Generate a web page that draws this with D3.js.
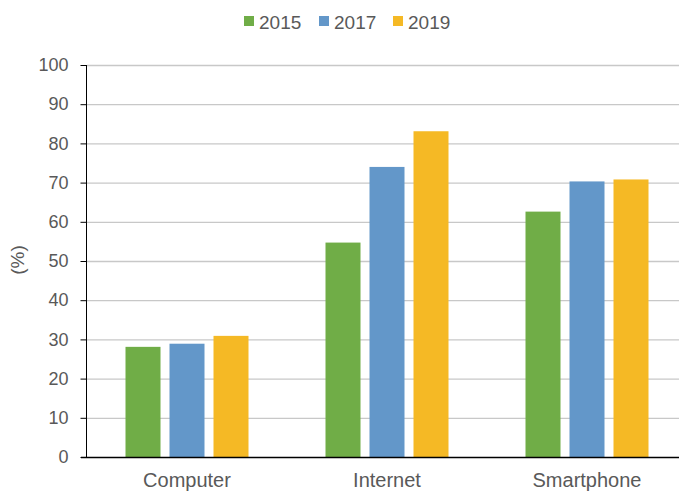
<!DOCTYPE html>
<html><head><meta charset="utf-8">
<script src="https://cdn.jsdelivr.net/npm/d3@7"></script>
<style>body{margin:0;background:#fff}svg{display:block}text{font-family:"Liberation Sans",Arial,sans-serif}</style>
</head><body>
<svg id="c" width="679" height="491"></svg>
<script>
const categories = ["Computer", "Internet", "Smartphone"];
const seriesNames = ["2015", "2017", "2019"];
const values2015 = [28.1, 54.7, 62.6];
const values2017 = [28.9, 74.0, 70.3];
const values2019 = [30.9, 83.1, 70.8];
const colors = ["#70ad47", "#6397c9", "#f5b925"];
const yTicks = [0,10,20,30,40,50,60,70,80,90,100];

(function(){
const series = [values2015, values2017, values2019];
const svg = d3.select("#c");
const mLeft = 87, mRight = 687, mTop = 65, mBottom = 457;
const x = d3.scaleBand().domain(categories).range([mLeft, mRight]).paddingInner(0).paddingOuter(0);
const y = d3.scaleLinear().domain([0,100]).range([mBottom, mTop]);
const x1 = d3.scaleBand().domain(seriesNames).range([0, x.bandwidth()]).paddingInner(0.2045).paddingOuter(0.875);

// gridlines
svg.append("g").selectAll("line").data(yTicks.filter(d=>d>0)).join("line")
  .attr("x1", mLeft).attr("x2", 679).attr("y1", d=>y(d)+0.5).attr("y2", d=>y(d)+0.5)
  .attr("stroke", "#c8c8c8").attr("stroke-width", 1.3);

// bars
seriesNames.forEach((s, si) => {
  svg.append("g").selectAll("rect").data(categories).join("rect")
    .attr("x", d => x(d) + x1(s))
    .attr("width", x1.bandwidth())
    .attr("y", (d,i) => y(series[si][i]))
    .attr("height", (d,i) => mBottom - y(series[si][i]))
    .attr("fill", colors[si]);
});

// y axis
const yAxis = d3.axisLeft(y).tickValues(yTicks).tickSize(6).tickPadding(12);
const ga = svg.append("g").attr("transform", `translate(${mLeft-0.5},0)`).call(yAxis);
ga.select(".domain").attr("stroke", "#000").attr("d", `M0,${mTop}V${mBottom}`);
ga.selectAll(".tick line").attr("stroke", "#000");
ga.selectAll(".tick text").attr("fill", "#595959").attr("font-size", 18).attr("font-family", "Liberation Sans, Arial, sans-serif");

// baseline
svg.append("line").attr("x1", mLeft-6).attr("x2", 679).attr("y1", mBottom+0.5).attr("y2", mBottom+0.5).attr("stroke", "#000").attr("stroke-width", 1.3);

// x labels
const xAxis = d3.axisBottom(x).tickSize(0).tickPadding(0);
const gx = svg.append("g").attr("transform", `translate(0,${mBottom})`).call(xAxis);
gx.select(".domain").remove();
gx.selectAll(".tick text").attr("fill", "#595959").attr("font-size", 20).attr("dy", 0).attr("y", 30)
  .attr("font-family", "Liberation Sans, Arial, sans-serif");

// y title
svg.append("text").attr("transform", "translate(24,260) rotate(-90)").attr("text-anchor", "middle")
  .attr("fill", "#595959").attr("font-size", 19).text("(%)");

// legend
const legX = [244, 319, 393];
const lg = svg.append("g");
seriesNames.forEach((s, i) => {
  lg.append("rect").attr("x", legX[i]).attr("y", 16).attr("width", 10).attr("height", 10).attr("fill", colors[i]);
  lg.append("text").attr("x", legX[i] + 15).attr("y", 29).attr("fill", "#595959").attr("font-size", 19).text(s);
});
})();
</script>
</body></html>
